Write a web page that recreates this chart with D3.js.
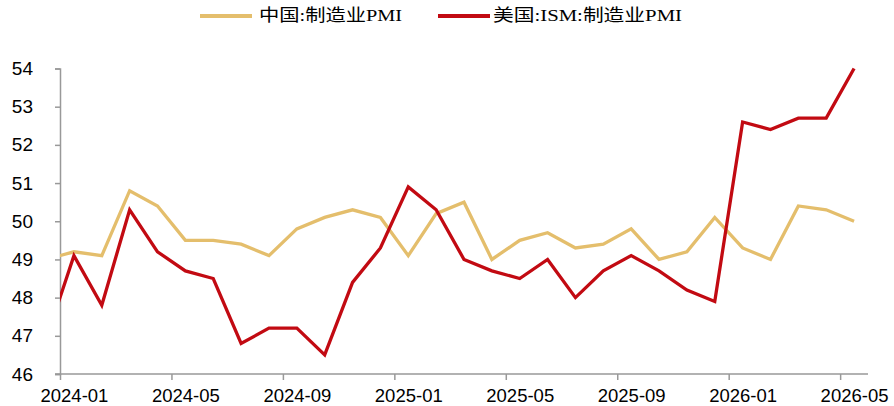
<!DOCTYPE html>
<html>
<head>
<meta charset="utf-8">
<script src="https://cdn.jsdelivr.net/npm/d3@7"></script>
<style>
  body { margin: 0; background: #fff; }
  svg { display: block; }
</style>
</head>
<body>
<svg id="chart"></svg>
<script>
// months, first one sits left of the axis and gets clipped
let months = ['2023-12',
  '2024-01', '2024-02', '2024-03', '2024-04', '2024-05', '2024-06', '2024-07', '2024-08', '2024-09', '2024-10', '2024-11', '2024-12',
  '2025-01', '2025-02', '2025-03', '2025-04', '2025-05', '2025-06', '2025-07', '2025-08', '2025-09', '2025-10', '2025-11', '2025-12',
  '2026-01', '2026-02', '2026-03', '2026-04', '2026-05']
let chinaPmi = [49.0,
  49.2, 49.1, 50.8, 50.4, 49.5, 49.5, 49.4, 49.1, 49.8, 50.1, 50.3, 50.1,
  49.1, 50.2, 50.5, 49.0, 49.5, 49.7, 49.3, 49.4, 49.8, 49.0, 49.2, 50.1,
  49.3, 49.0, 50.4, 50.3, 50.0]
let usIsm = [46.9,
  49.1, 47.8, 50.3, 49.2, 48.7, 48.5, 46.8, 47.2, 47.2, 46.5, 48.4, 49.3,
  50.9, 50.3, 49.0, 48.7, 48.5, 49.0, 48.0, 48.7, 49.1, 48.7, 48.2, 47.9,
  52.6, 52.4, 52.7, 52.7, 54.0]
let yTicks = [46, 47, 48, 49, 50, 51, 52, 53, 54]
let xLabelMonths = ['2024-01', '2024-05', '2024-09', '2025-01', '2025-05', '2025-09', '2026-01', '2026-05']
let seriesNames = ['中国:制造业PMI', '美国:ISM:制造业PMI']
let seriesColors = ['#E4BE6C', '#C20A12']

let width = 894
let height = 406
let axisColor = '#999'

let svg = d3.select('#chart').attr('width', width).attr('height', height)

// month slot k (0 = 2024-01) covers [k, k+1]
let firstMonth = months.indexOf('2024-01')
let x = d3.scaleLinear().domain([0, 29]).range([60, 868])
let y = d3.scaleLinear().domain([46, 54]).range([374, 68.5])
let slot = m => months.indexOf(m) - firstMonth

svg.append('defs').append('clipPath').attr('id', 'plot')
  .append('rect').attr('x', 60).attr('y', 0).attr('width', 812).attr('height', height)

// y axis
let yAxis = d3.axisLeft(y).tickValues(yTicks).tickSize(5).tickPadding(22).tickFormat(d3.format('d'))
let gy = svg.append('g').attr('transform', 'translate(60,0)').call(yAxis)
gy.select('.domain').attr('stroke', axisColor).attr('stroke-width', 1.5)
gy.selectAll('.tick line').attr('stroke', axisColor).attr('stroke-width', 1.5)
gy.selectAll('.tick text')
  .attr('font-family', '"Liberation Sans", Arial, sans-serif')
  .attr('font-size', '19px')
  .attr('fill', '#000')

// x axis, ticks on month boundaries, labels in the middle of the month
let xAxis = d3.axisBottom(x)
  .tickValues(xLabelMonths.map(slot))
  .tickSize(6).tickSizeOuter(0)
  .tickFormat(k => months[k + firstMonth])
let gx = svg.append('g').attr('transform', 'translate(0,374)').call(xAxis)
gx.select('.domain').attr('stroke', axisColor).attr('stroke-width', 1.5)
  .attr('d', 'M55,0H868')
gx.selectAll('.tick line').attr('stroke', axisColor).attr('stroke-width', 1.5)
gx.selectAll('.tick text')
  .attr('x', x(0.5) - x(0))
  .attr('y', 28)
  .attr('dy', 0)
  .attr('font-family', '"Liberation Sans", Arial, sans-serif')
  .attr('font-size', '18.5px')
  .attr('fill', '#000')

// lines
let line = d3.line()
  .x((d, i) => x(i - firstMonth + 0.5))
  .y(d => y(d))

let plot = svg.append('g').attr('clip-path', 'url(#plot)')
;[chinaPmi, usIsm].forEach((values, i) => {
  plot.append('path')
    .datum(values)
    .attr('d', line)
    .attr('fill', 'none')
    .attr('stroke', seriesColors[i])
    .attr('stroke-width', 3.3)
})

// legend
let legend = [
  { lx: 200, tx: 259, len: 143 },
  { lx: 438, tx: 493, len: 189 }
]
legend.forEach((l, i) => {
  svg.append('line')
    .attr('x1', l.lx).attr('x2', l.lx + 52)
    .attr('y1', 16).attr('y2', 16)
    .attr('stroke', seriesColors[i])
    .attr('stroke-width', 4)
  svg.append('text')
    .attr('x', l.tx).attr('y', 21)
    .attr('font-family', '"Liberation Serif", "Times New Roman", "Noto Sans CJK SC", serif')
    .attr('font-size', '17px')
    .attr('fill', '#000')
    .attr('textLength', l.len)
    .attr('lengthAdjust', 'spacingAndGlyphs')
    .text(seriesNames[i])
})
</script>
</body>
</html>
